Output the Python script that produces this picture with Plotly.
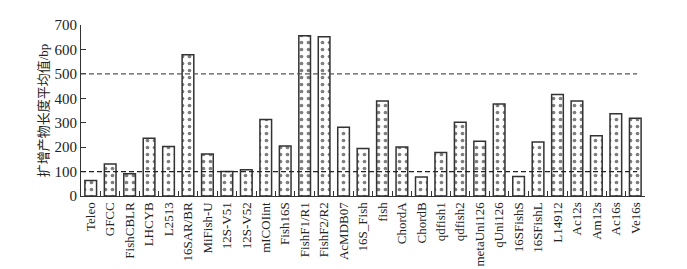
import plotly.graph_objects as go

categories = ["Teleo", "GFCC", "FishCBLR", "LHCYB", "L2513", "16SAR/BR", "MiFish-U",
              "12S-V51", "12S-V52", "mICOIint", "Fish16S", "FishF1/R1", "FishF2/R2",
              "AcMDB07", "16S_Fish", "fish", "ChordA", "ChordB", "qdfish1", "qdfish2",
              "metaUni126", "qUni126", "16SFishS", "16SFishL", "L14912", "Ac12s",
              "Am12s", "Ac16s", "Ve16s"]
values = [63, 131, 91, 236, 203, 578, 172, 100, 107, 313, 205, 656, 652,
          281, 194, 389, 201, 78, 178, 302, 224, 377, 80, 221, 415, 389,
          247, 337, 318]
thresholds = [100, 500]
threshold_colors = ["#222222", "#555555"]
y_ticks = [0, 100, 200, 300, 400, 500, 600, 700]

font_family = "Liberation Serif, Times New Roman, Noto Sans CJK SC, serif"

fig = go.Figure()
fig.add_trace(go.Bar(
    x=categories, y=values, width=0.6,
    marker=dict(color="white",
                line=dict(color="#333333", width=1.5),
                pattern=dict(shape=".", fgcolor="#000000", bgcolor="white",
                             size=7, solidity=0.22, fillmode="overlay")),
    showlegend=False,
))

for t, c in zip(thresholds, threshold_colors):
    fig.add_shape(type="line", xref="paper", yref="y", x0=0, x1=0.986, y0=t, y1=t,
                  line=dict(color=c, width=1.2, dash="5px,3px"), layer="above")

fig.update_layout(
    width=687, height=269,
    margin=dict(l=81, r=42, t=25, b=73),
    paper_bgcolor="white", plot_bgcolor="white",
    font=dict(family=font_family, size=13, color="#222222"),
    bargap=0.4,
)
fig.update_xaxes(
    type="category", showline=True, linecolor="#333333", linewidth=1.2,
    ticks="inside", tickson="boundaries", ticklen=5, tickcolor="#333333",
    tickangle=-90, tickfont=dict(size=13, family=font_family),
    showgrid=False, zeroline=False, range=[-0.5, len(categories) - 0.5],
    automargin=False,
)
fig.update_yaxes(
    range=[0, 700], tickvals=y_ticks, showline=True, linecolor="#333333", linewidth=1.2,
    ticks="inside", ticklen=5, tickcolor="#333333", showgrid=False, zeroline=False,
    tickfont=dict(size=15, family=font_family), automargin=False,
    title=dict(text="扩增产物长度平均值/bp", standoff=2,
               font=dict(size=13, family=font_family)),
)

fig.write_html("out.html")
